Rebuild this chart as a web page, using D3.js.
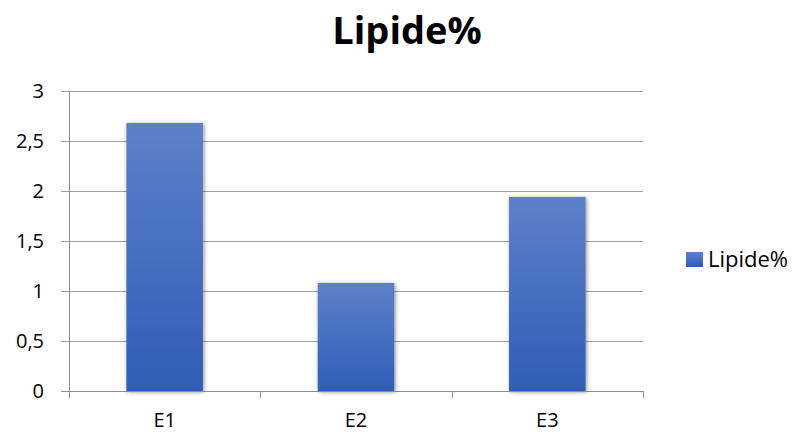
<!DOCTYPE html>
<html>
<head>
<meta charset="utf-8">
<script src="https://cdn.jsdelivr.net/npm/d3@7"></script>
<style>
  html, body { margin: 0; padding: 0; background: #fff; }
  svg { display: block; font-family: "Open Sans", "Liberation Sans", sans-serif; }
</style>
</head>
<body>
<svg id="chart" width="793" height="434"></svg>
<script>
// Lipid content per sample
const categories = ["E1", "E2", "E3"];
const values = [2.68, 1.08, 1.94];
const seriesName = "Lipide%";
const yTicks = [0, 0.5, 1, 1.5, 2, 2.5, 3];
const yTickLabels = ["0", "0,5", "1", "1,5", "2", "2,5", "3"];

const svg = d3.select("#chart");
const plot = { left: 69, right: 643, top: 91, bottom: 391 };

const x = d3.scaleBand().domain(categories).range([plot.left, plot.right]).paddingInner(0.6).paddingOuter(0.3);
const y = d3.scaleLinear().domain([0, 3]).range([plot.bottom, plot.top]);

const defs = svg.append("defs");
const grad = defs.append("linearGradient").attr("id", "barFill")
  .attr("x1", 0).attr("y1", 0).attr("x2", 0).attr("y2", 1);
grad.append("stop").attr("offset", "0%").attr("stop-color", "#5d81c9");
grad.append("stop").attr("offset", "100%").attr("stop-color", "#2f5db6");

const shadow = defs.append("filter").attr("id", "barShadow")
  .attr("x", "-20%").attr("y", "-10%").attr("width", "140%").attr("height", "120%");
shadow.append("feDropShadow").attr("dx", 1).attr("dy", 1).attr("stdDeviation", 2.2)
  .attr("flood-color", "#000").attr("flood-opacity", 0.45);

// Horizontal gridlines with left tick stubs
svg.append("g").selectAll("line").data(yTicks).join("line")
  .attr("x1", plot.left - 8).attr("x2", plot.right)
  .attr("y1", d => Math.round(y(d)) + 0.5).attr("y2", d => Math.round(y(d)) + 0.5)
  .attr("stroke", "#a0a0a0").attr("stroke-width", 1);

// Y axis labels
svg.append("g").selectAll("text").data(yTicks).join("text")
  .attr("x", 44).attr("y", d => y(d))
  .attr("dy", "0.36em").attr("text-anchor", "end")
  .attr("font-size", 20).attr("fill", "#000")
  .text((d, i) => yTickLabels[i]);

// Bars
svg.append("g").selectAll("rect").data(values).join("rect")
  .attr("x", (d, i) => x(categories[i]))
  .attr("width", x.bandwidth())
  .attr("y", d => y(d))
  .attr("height", d => y(0) - y(d))
  .attr("fill", "url(#barFill)")
  .attr("filter", "url(#barShadow)");

// Axis lines
svg.append("line")
  .attr("x1", plot.left + 0.5).attr("x2", plot.left + 0.5)
  .attr("y1", plot.top).attr("y2", plot.bottom + 7)
  .attr("stroke", "#8c8c8c");
svg.append("line")
  .attr("x1", plot.left - 8).attr("x2", plot.right)
  .attr("y1", plot.bottom + 0.5).attr("y2", plot.bottom + 0.5)
  .attr("stroke", "#8c8c8c");

// Category separator ticks
const step = (plot.right - plot.left) / categories.length;
svg.append("g").selectAll("line").data(d3.range(categories.length + 1)).join("line")
  .attr("x1", i => Math.round(plot.left + i * step) + 0.5)
  .attr("x2", i => Math.round(plot.left + i * step) + 0.5)
  .attr("y1", plot.bottom).attr("y2", plot.bottom + 7)
  .attr("stroke", "#8c8c8c");

// Category labels
svg.append("g").selectAll("text").data(categories).join("text")
  .attr("x", d => x(d) + x.bandwidth() / 2).attr("y", 427)
  .attr("text-anchor", "middle").attr("font-size", 20).attr("fill", "#000")
  .text(d => d);

// Title
svg.append("text").attr("x", 407).attr("y", 44)
  .attr("text-anchor", "middle").attr("font-size", 38).attr("font-weight", "bold")
  .attr("fill", "#000").text(seriesName);

// Legend
const legend = svg.append("g");
legend.append("rect").attr("x", 686).attr("y", 252).attr("width", 17).attr("height", 15)
  .attr("fill", "url(#barFill)");
legend.append("text").attr("x", 708).attr("y", 267)
  .attr("font-size", 22).attr("fill", "#000").text(seriesName);
</script>
</body>
</html>
